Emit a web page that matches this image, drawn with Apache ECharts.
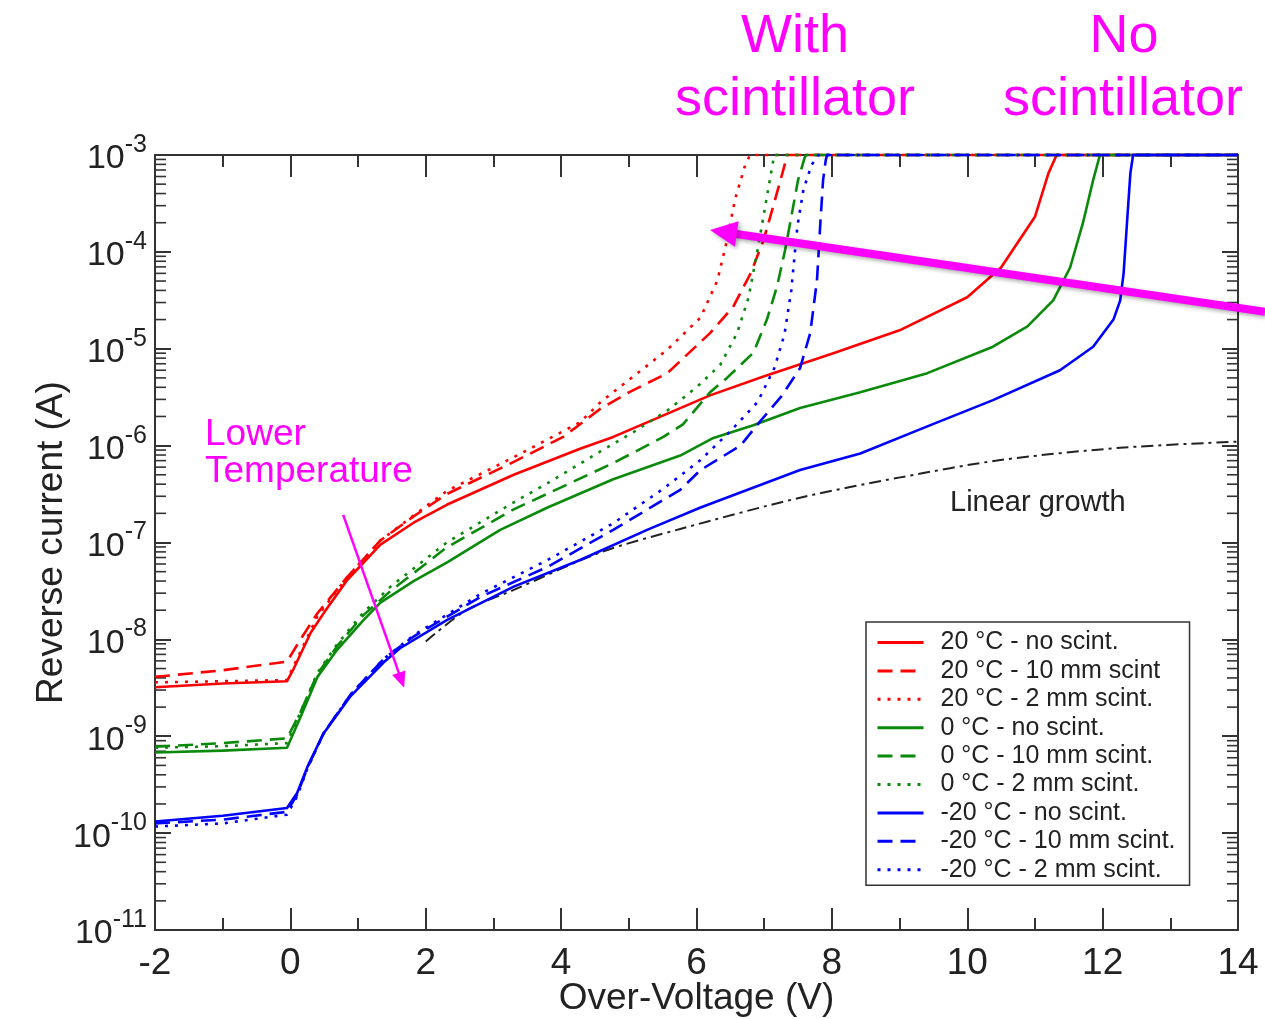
<!DOCTYPE html>
<html><head><meta charset="utf-8">
<script src="https://cdn.jsdelivr.net/npm/echarts@6/dist/echarts.min.js"></script>
<style>html,body{margin:0;padding:0;background:#fff}#c{width:1265px;height:1019px}</style>
</head><body><div id="c"></div>
<script>
// ---------- data: [over-voltage (V), reverse current (A)] ----------
const red20_none = [[-2,3.2e-9],[-1,3.5e-9],[-0.05,3.7e-9],[0.05,5.0e-9],[0.3,1.17e-8],[0.5,1.9e-8],[0.84,4.1e-8],[1.33,9.5e-8],[1.82,1.6e-7],[2.31,2.45e-7],[3.3,5.0e-7],[4.28,9.3e-7],[4.77,1.23e-6],[5.27,1.74e-6],[6.2,3.3e-6],[7.0,5.2e-6],[8.0,8.9e-6],[9.0,1.55e-5],[10.0,3.4e-5],[10.5,6.9e-5],[11.0,2.3e-4],[11.2,6.5e-4],[11.32,1e-3],[14,1e-3]];
const red20_10mm = [[-2,4.1e-9],[-1,4.8e-9],[-0.05,5.9e-9],[0.15,1.0e-8],[0.4,1.86e-8],[0.84,4.4e-8],[1.33,1.05e-7],[1.82,1.86e-7],[2.31,3.16e-7],[3.3,6.8e-7],[4.03,1.23e-6],[4.58,2.4e-6],[5.0,3.55e-6],[5.57,5.6e-6],[6.2,1.45e-5],[6.54,2.7e-5],[6.8,6.0e-5],[6.99,1.32e-4],[7.13,2.9e-4],[7.27,6.5e-4],[7.34,1e-3],[14,1e-3]];
const red20_2mm = [[-2,3.6e-9],[-1,3.7e-9],[-0.05,3.8e-9],[0.1,6.3e-9],[0.4,1.74e-8],[0.84,4.4e-8],[1.33,1.05e-7],[1.82,1.9e-7],[2.31,3.4e-7],[3.3,7.6e-7],[4.28,1.74e-6],[4.58,2.8e-6],[5.07,5.2e-6],[5.57,9.8e-6],[6.06,2.1e-5],[6.31,5.1e-5],[6.45,1.32e-4],[6.57,3.5e-4],[6.72,7.9e-4],[6.79,1e-3],[14,1e-3]];
const green0_none = [[-2,6.8e-10],[-1,7.1e-10],[-0.05,7.6e-10],[0.15,1.58e-9],[0.4,4.1e-9],[0.69,7.8e-9],[1.08,1.58e-8],[1.33,2.4e-8],[1.82,4.0e-8],[2.31,6.2e-8],[3.1,1.35e-7],[3.8,2.3e-7],[4.77,4.5e-7],[5.76,7.9e-7],[6.25,1.2e-6],[6.84,1.62e-6],[7.53,2.45e-6],[8.42,3.55e-6],[9.41,5.6e-6],[10.38,1.05e-5],[10.89,1.7e-5],[11.27,3.16e-5],[11.52,6.9e-5],[11.71,2.0e-4],[11.86,5.5e-4],[11.96,1e-3],[14,1e-3]];
const green0_10mm = [[-2,7.8e-10],[-1,8.5e-10],[-0.05,9.5e-10],[0.15,1.78e-9],[0.4,4.4e-9],[0.69,8.5e-9],[1.08,1.78e-8],[1.48,3.16e-8],[2.31,8.9e-8],[3.3,2.2e-7],[4.77,6.6e-7],[5.51,1.23e-6],[5.8,1.66e-6],[6.2,3.55e-6],[6.45,5.0e-6],[6.84,9.1e-6],[7.04,2.0e-5],[7.19,4.4e-5],[7.31,1.05e-4],[7.41,2.5e-4],[7.5,5.5e-4],[7.6,9.5e-4],[7.62,1e-3],[14,1e-3]];
const green0_2mm = [[-2,7.6e-10],[-1,7.9e-10],[-0.05,8.5e-10],[0.15,1.78e-9],[0.4,4.5e-9],[0.69,8.9e-9],[1.08,1.9e-8],[1.48,3.5e-8],[2.31,1.0e-7],[3.3,2.6e-7],[3.8,4.1e-7],[4.58,8.7e-7],[5.07,1.38e-6],[5.57,2.3e-6],[6.0,4.0e-6],[6.35,6.8e-6],[6.6,1.45e-5],[6.77,3.4e-5],[6.91,1.12e-4],[7.04,3.7e-4],[7.14,9.3e-4],[7.15,1e-3],[14,1e-3]];
const blueM20_none = [[-2,1.32e-10],[-1,1.51e-10],[-0.05,1.82e-10],[0.1,2.6e-10],[0.25,4.8e-10],[0.49,1.07e-9],[0.89,2.6e-9],[1.38,5.8e-9],[1.62,8.1e-9],[2.31,1.58e-8],[3.3,3.5e-8],[4.28,6.6e-8],[5.27,1.35e-7],[6.06,2.3e-7],[7.53,5.6e-7],[8.42,8.3e-7],[9.41,1.58e-6],[10.38,2.95e-6],[11.37,6.0e-6],[11.86,1.05e-5],[12.16,2.0e-5],[12.26,3.16e-5],[12.31,6.0e-5],[12.36,2.0e-4],[12.41,6.5e-4],[12.45,1e-3],[14,1e-3]];
const blueM20_10mm = [[-2,1.26e-10],[-1,1.38e-10],[-0.05,1.66e-10],[0.1,2.5e-10],[0.25,4.7e-10],[0.49,1.07e-9],[0.89,2.7e-9],[1.38,6.3e-9],[1.82,1.07e-8],[2.81,2.75e-8],[3.8,5.6e-8],[4.77,1.35e-7],[5.76,3.5e-7],[6.06,5.6e-7],[6.65,1.0e-6],[6.94,1.78e-6],[7.25,3.2e-6],[7.53,6.3e-6],[7.68,1.45e-5],[7.78,5.1e-5],[7.83,2.0e-4],[7.87,5.5e-4],[7.91,8.9e-4],[7.93,1e-3],[14,1e-3]];
const blueM20_2mm = [[-2,1.17e-10],[-1,1.26e-10],[-0.05,1.55e-10],[0.1,2.4e-10],[0.25,4.6e-10],[0.49,1.07e-9],[0.89,2.7e-9],[1.38,6.3e-9],[1.82,1.1e-8],[2.81,2.95e-8],[3.8,6.6e-8],[4.77,1.58e-7],[5.5,3.55e-7],[6.06,7.1e-7],[6.5,1.41e-6],[6.9,2.8e-6],[7.15,6.3e-6],[7.3,1.41e-5],[7.4,4.0e-5],[7.49,1.82e-4],[7.58,4.4e-4],[7.7,7.9e-4],[7.8,1e-3],[14,1e-3]];
const linearGrowth = [[2.0,9.5e-9],[2.6,2.0e-8],[3.3,3.24e-8],[4.58,7.9e-8],[5.76,1.38e-7],[7.53,2.9e-7],[9.01,4.7e-7],[10.49,7.1e-7],[12.26,9.5e-7],[14,1.1e-6]];

const seriesNames = ['20 °C - no scint.','20 °C - 10 mm scint','20 °C - 2 mm scint.','0 °C - no scint.','0 °C - 10 mm scint.','0 °C - 2 mm scint.','-20 °C - no scint.','-20 °C - 10 mm scint.','-20 °C - 2 mm scint.'];
const seriesData = [red20_none, red20_10mm, red20_2mm, green0_none, green0_10mm, green0_2mm, blueM20_none, blueM20_10mm, blueM20_2mm];
const seriesColors = ['#ff0000','#ff0000','#ff0000','#0a8a0a','#0a8a0a','#0a8a0a','#0000ff','#0000ff','#0000ff'];
const seriesDash = ['solid',[15,8],[3,7],'solid',[15,8],[3,7],'solid',[15,8],[3,7]];

const xTickValues = [-2,0,2,4,6,8,10,12,14];
const yDecadeExponents = [-11,-10,-9,-8,-7,-6,-5,-4,-3];
const yMinorMultipliers = [2,3,4,5,6,7,8,9];

// annotation anchor points (data coordinates)
const tempArrowV = [0.78, 1.68];
const tempArrowI = [1.93e-7, 3.16e-9];
const scintArrowV = [14.4, 6.2];
const scintArrowI = [2.4e-5, 1.68e-4];

const FONT = 'Liberation Sans';
const AX = '#333';
const TXT = '#222';

const minorTickData = [];
for (let i = 0; i < yDecadeExponents.length - 1; i++) {
  for (const m of yMinorMultipliers) minorTickData.push([-2, m * Math.pow(10, yDecadeExponents[i])]);
}

const chart = echarts.init(document.getElementById('c'), null, {renderer: 'canvas'});

const lineSeries = seriesNames.map((n, i) => ({
  name: n, type: 'line', data: seriesData[i], symbol: 'none', showSymbol: false, clip: false,
  lineStyle: {color: seriesColors[i], width: 2.6, type: seriesDash[i], join: 'round'},
  itemStyle: {color: seriesColors[i]}, z: 3 + i, silent: true
}));
lineSeries.push({
  name: 'Linear growth', type: 'line', data: linearGrowth, symbol: 'none', showSymbol: false, clip: false,
  smooth: 0.3,
  lineStyle: {color: '#222', width: 2, type: [12,5,3,5]}, itemStyle: {color: '#222'}, z: 2, silent: true
});
lineSeries.push({
  type: 'custom', data: minorTickData, silent: true, clip: false, z: 1,
  renderItem: function (params, api) {
    const v = api.value(1);
    const pl = api.coord([-2, v]);
    const pr = api.coord([14, v]);
    const st = {stroke: AX, lineWidth: 1.6};
    return {type: 'group', children: [
      {type: 'line', shape: {x1: pl[0], y1: pl[1], x2: pl[0] + 11, y2: pl[1]}, style: st},
      {type: 'line', shape: {x1: pr[0], y1: pr[1], x2: pr[0] - 11, y2: pr[1]}, style: st}
    ]};
  }
});

const xCommon = {
  type: 'value', min: -2, max: 14, interval: 2,
  axisLine: {show: true, onZero: false, lineStyle: {color: AX, width: 2}},
  axisTick: {show: true, inside: true, length: 22, lineStyle: {color: AX, width: 2}},
  minorTick: {show: true, splitNumber: 2, length: 12, lineStyle: {color: AX, width: 2}},
  splitLine: {show: false}, minorSplitLine: {show: false}
};
const yCommon = {
  type: 'log', logBase: 10, min: 1e-11, max: 1e-3, splitNumber: 8,
  axisLine: {show: true, onZero: false, lineStyle: {color: AX, width: 2}},
  axisTick: {show: true, inside: true, length: 16, lineStyle: {color: AX, width: 2}},
  splitLine: {show: false}
};

chart.setOption({
  animation: false,
  backgroundColor: '#fff',
  grid: {left: 155, right: 27, top: 155, bottom: 89, containLabel: false, outerBoundsMode: 'none'},
  xAxis: [
    Object.assign({}, xCommon, {
      position: 'bottom', name: 'Over-Voltage (V)', nameLocation: 'middle', nameGap: 50, nameMoveOverlap: false,
      nameTextStyle: {fontFamily: FONT, fontSize: 37, color: TXT},
      axisLabel: {fontFamily: FONT, fontSize: 37, color: TXT, margin: 15,
        formatter: v => (xTickValues.indexOf(v) >= 0 ? String(v) : '')}
    }),
    Object.assign({}, xCommon, {position: 'top', axisLabel: {show: false}})
  ],
  yAxis: [
    Object.assign({}, yCommon, {
      position: 'left', name: 'Reverse current (A)', nameLocation: 'middle', nameGap: 85, nameRotate: 90, nameMoveOverlap: false,
      nameTextStyle: {fontFamily: FONT, fontSize: 37, color: TXT},
      axisLabel: {
        margin: 8, fontFamily: FONT, color: TXT,
        formatter: v => '{b|10}{s|' + Math.round(Math.log10(v)) + '}',
        rich: {
          b: {fontFamily: FONT, fontSize: 34, color: TXT, padding: [8, 0, 0, 0]},
          s: {fontFamily: FONT, fontSize: 25, color: TXT, padding: [0, 0, 20, 0]}
        }
      }
    }),
    Object.assign({}, yCommon, {position: 'right', axisLabel: {show: false}})
  ],
  legend: {
    data: seriesNames, orient: 'vertical', left: 866, top: 622,
    itemWidth: 46, itemHeight: 14, itemGap: 3.4,
    padding: [8, 14, 3, 10], borderColor: AX, borderWidth: 1.5, backgroundColor: '#fff',
    selectedMode: false,
    itemStyle: {opacity: 0},
    lineStyle: {width: 3},
    textStyle: {fontFamily: FONT, fontSize: 25, color: TXT, lineHeight: 24, padding: [0, 0, 0, 12]}
  },
  series: lineSeries
});

// ---------- annotations ----------
function arrow(p0, p1, shaftW, headL, headHalf, shadow) {
  const dx = p1[0] - p0[0], dy = p1[1] - p0[1];
  const len = Math.sqrt(dx * dx + dy * dy);
  const ux = dx / len, uy = dy / len;
  const bx = p1[0] - ux * headL, by = p1[1] - uy * headL;
  const nx = -uy, ny = ux;
  const sh = shadow ? {shadowBlur: 4, shadowColor: 'rgba(0,0,0,0.35)', shadowOffsetX: 2, shadowOffsetY: 2} : {};
  return [
    {type: 'line', z: 50, shape: {x1: p0[0], y1: p0[1], x2: bx + ux * 2, y2: by + uy * 2},
      style: Object.assign({stroke: '#ff00ff', lineWidth: shaftW}, sh)},
    {type: 'polygon', z: 51, shape: {points: [[p1[0], p1[1]], [bx + nx * headHalf, by + ny * headHalf], [bx - nx * headHalf, by - ny * headHalf]]},
      style: Object.assign({fill: '#ff00ff'}, sh)}
  ];
}
const a0 = chart.convertToPixel({gridIndex: 0}, [tempArrowV[0], tempArrowI[0]]);
const a1 = chart.convertToPixel({gridIndex: 0}, [tempArrowV[1], tempArrowI[1]]);
const b0 = chart.convertToPixel({gridIndex: 0}, [scintArrowV[0], scintArrowI[0]]);
const b1 = chart.convertToPixel({gridIndex: 0}, [scintArrowV[1], scintArrowI[1]]);

const mag = '#ff00ff';
const txt = (t, x, y, size, color, align) => ({
  type: 'text', z: 60, x: x, y: y,
  style: {text: t, fontFamily: FONT, fontSize: size, fill: color, align: align || 'center', verticalAlign: 'middle'}
});
chart.setOption({
  graphic: [].concat(
    arrow(a0, a1, 2.5, 16, 7, false),
    arrow(b0, b1, 8, 27, 13, true),
    [
      txt('With', 795, 37, 54, mag),
      txt('scintillator', 795, 100, 54, mag),
      txt('No', 1124, 37, 54, mag),
      txt('scintillator', 1123, 100, 54, mag),
      txt('Lower', 205, 435, 37, mag, 'left'),
      txt('Temperature', 205, 472, 37, mag, 'left'),
      txt('Linear growth', 950, 503, 29, TXT, 'left')
    ]
  )
});
</script></body></html>
